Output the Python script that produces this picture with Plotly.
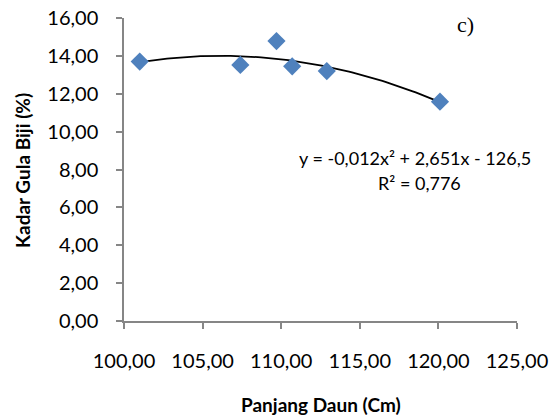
import numpy as np
import plotly.graph_objects as go

panjang_daun = [101.0, 107.4, 109.7, 110.7, 112.9, 120.1]
kadar_gula = [13.70, 13.52, 14.78, 13.45, 13.20, 11.58]
x_ticks = [100, 105, 110, 115, 120, 125]
y_ticks = [0, 2, 4, 6, 8, 10, 12, 14, 16]

coef = np.polyfit(panjang_daun, kadar_gula, 2)
xs = np.linspace(min(panjang_daun), max(panjang_daun), 100)
ys = np.polyval(coef, xs)

FONT = "Lato"
L, R, T, B = 124, 32, 18, 96
PW, PH = 549 - L - R, 417 - T - B


def px(x):
    return (x - L) / PW


def py(y):
    return (417 - B - y) / PH


fig = go.Figure()
fig.add_trace(go.Scatter(x=xs, y=ys, mode="lines", line=dict(color="black", width=1.8),
                         hoverinfo="skip", showlegend=False))
fig.add_trace(go.Scatter(x=panjang_daun, y=kadar_gula, mode="markers",
                         marker=dict(symbol="diamond", size=14, color="#4F81BD"),
                         showlegend=False))

fig.update_layout(
    width=549, height=417,
    margin=dict(l=L, r=R, t=T, b=B, autoexpand=False),
    plot_bgcolor="white", paper_bgcolor="white",
    separators=",.",
    font=dict(family=FONT, size=20, color="black"),
    xaxis=dict(range=[100, 125], tickvals=x_ticks, tickformat=".2f", automargin=False,
               showgrid=False, zeroline=False, showline=True, linecolor="#868686", linewidth=1.5,
               ticks="outside", ticklen=6, tickcolor="#868686", tickwidth=1.5,
               ticklabelstandoff=15),
    yaxis=dict(range=[0, 16], tickvals=y_ticks, tickformat=".2f", automargin=False,
               showgrid=False, zeroline=False, showline=True, linecolor="#868686", linewidth=1.5,
               ticks="outside", ticklen=6, tickcolor="#868686", tickwidth=1.5,
               ticklabelstandoff=14),
    annotations=[
        dict(text="<b>Panjang Daun (Cm)</b>", xref="paper", yref="paper",
             x=px(321), y=py(404), xanchor="center", yanchor="middle", showarrow=False,
             font=dict(size=19, family=FONT)),
        dict(text="<b>Kadar Gula Biji (%)</b>", xref="paper", yref="paper", textangle=-90,
             x=px(22), y=py(171), xanchor="center", yanchor="middle", showarrow=False,
             font=dict(size=19, family=FONT)),
        dict(text="y = -0,012x² + 2,651x - 126,5", xref="paper", yref="paper",
             x=px(415), y=py(158), xanchor="center", yanchor="middle",
             showarrow=False, font=dict(size=18, family=FONT)),
        dict(text="R² = 0,776", xref="paper", yref="paper",
             x=px(419), y=py(183), xanchor="center", yanchor="middle",
             showarrow=False, font=dict(size=18, family=FONT)),
        dict(text="c)", xref="paper", yref="paper", x=px(465), y=py(24),
             xanchor="center", yanchor="middle",
             showarrow=False, font=dict(size=22, family="Liberation Serif")),
    ],
)
fig.write_html("out.html", config={"displayModeBar": False},
               post_script="document.body.style.margin='0';")
